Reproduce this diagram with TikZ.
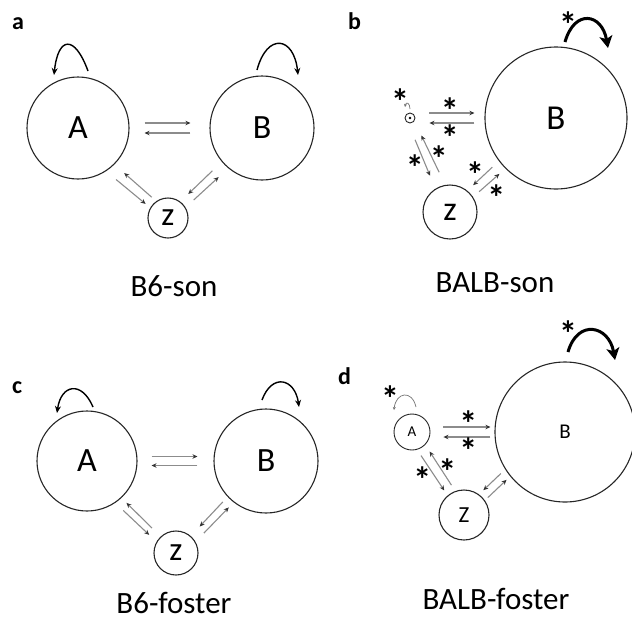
\documentclass[tikz,border=0pt]{standalone}
\usepackage{fontspec}
\setmainfont{Carlito}
\usetikzlibrary{positioning,arrows.meta}
\newcommand{\sigstar}{\smash{\raisebox{-0.55em}{*}}}
\begin{document}
\begin{tikzpicture}[x=1pt, y=-1pt,
	pool/.style={draw=black!85, line width=1.1pt, circle, inner sep=0pt},
	flow/.style={draw=black!45, line width=1.1pt, -{Stealth[length=5pt,width=4.5pt,color=black!80]}},
	ends/.style 2 args={shorten <=#1pt, shorten >=#2pt},
	renew/.style={line width=1.4pt, -{Stealth[length=7pt,width=6pt]}},
	strong/.style={line width=3pt, -{Stealth[length=12pt,width=13pt,inset=3pt]}},
	weak/.style={draw=black!55, line width=0.7pt, -{Stealth[length=3pt,width=3pt]}},
	sig/.style={font=\bfseries\fontsize{36}{36}\selectfont, inner sep=0pt},
	panel/.style={font=\bfseries\fontsize{24}{24}\selectfont, anchor=base west, inner sep=0pt},
	caption/.style={font=\fontsize{31}{31}\selectfont, anchor=base, inner sep=0pt}]
		\useasboundingbox (0,0) rectangle (632,622);

		\node[panel] (la) at (12,29) {a};
		\node[pool, minimum size=102pt, font=\fontsize{34}{34}\selectfont] (aA) at (78,128) {A};
		\node[pool, minimum size=104pt, font=\fontsize{34}{34}\selectfont] (aB) [right of=aA, node distance=184pt] {B};
		\node[pool, minimum size=40pt, font=\fontsize{33}{33}\selectfont] (az) at (168,218) {z};
		\node[caption] (ca) at (174,296) {B6-son};
		\draw[renew] ([shift={(10pt,57pt)}]aA.center) to[out=110, in=84, distance=39pt] ([shift={(-24pt,53pt)}]aA.center);
		\draw[renew] ([shift={(-5pt,58pt)}]aB.center) to[out=75, in=96, distance=39pt] ([shift={(36pt,53pt)}]aB.center);
		\draw[flow, ends={15}{19}] ([yshift=5pt]aA.east) -- ([yshift=5pt]aB.west);
		\draw[flow, ends={19}{15}] ([yshift=-5pt]aB.west) -- ([yshift=-5pt]aA.east);
		\draw[flow, ends={13}{6}] (aA.-57) -- (az.150);
		\draw[flow, ends={6}{13}] (az.125) -- (aA.-45);
		\draw[flow, ends={13}{11}] (aB.-140) -- (az.53);
		\draw[flow, ends={11}{13}] (az.31) -- (aB.-130);

		\node[panel] (lb) at (348,29) {b};
		\node[pool, minimum size=142pt, font=\fontsize{35}{35}\selectfont] (bB) at (556,118) {B};
		\node[pool, minimum size=10pt, line width=0.9pt] (bO) at (410,118) {};
		\fill (bO) circle (1.3pt);
		\node[pool, minimum size=54pt, font=\fontsize{34}{34}\selectfont] (bz) at (450,212) {z};
		\node[caption] (cb) at (495,292) {BALB-son};
		\draw[strong] ([shift={(9pt,76pt)}]bB.center) node[sig, shift={(3pt,24pt)}] {\sigstar} to[out=74, in=100, distance=35pt] ([shift={(52pt,70pt)}]bB.center);
		\draw[weak] ([shift={(0pt,9pt)}]bO.center) node[sig, shift={(-10pt,14pt)}] {\sigstar} to[out=90, in=80, distance=6pt] ([shift={(-5pt,11pt)}]bO.center);
		\draw[flow, ends={14}{10}] ([yshift=5pt]bO.east) -- node[sig, yshift=9pt] {\sigstar} ([yshift=5pt]bB.west);
		\draw[flow, ends={10}{14}] ([yshift=-5pt]bB.west) -- node[sig, yshift=-8pt] {\sigstar} ([yshift=-5pt]bO.east);
		\draw[flow, ends={18}{14}] (bO.-110) -- node[sig, shift={(-7pt,-5pt)}] {\sigstar} (bz.122);
		\draw[flow, ends={14}{16}] (bz.100) -- node[sig, shift={(9pt,1pt)}] {\sigstar} (bO.-35);
		\draw[flow, ends={9}{8}] (bB.-143) -- node[sig, shift={(-8pt,8pt)}] {\sigstar} (bz.51);
		\draw[flow, ends={8}{8}] (bz.33) -- node[sig, shift={(7pt,-8pt)}] {\sigstar} (bB.-135);

		\node[panel] (lc) at (12,393) {c};
		\node[pool, minimum size=100pt, font=\fontsize{34}{34}\selectfont] (cA) at (87,461) {A};
		\node[pool, minimum size=104pt, font=\fontsize{34}{34}\selectfont] (cB) [right of=cA, node distance=179pt] {B};
		\node[pool, minimum size=44pt, font=\fontsize{33}{33}\selectfont] (cz) at (176,553) {z};
		\node[caption] (cc) at (174,613) {B6-foster};
		\draw[renew] ([shift={(6pt,54pt)}]cA.center) to[out=113, in=82, distance=29pt] ([shift={(-30pt,48pt)}]cA.center);
		\draw[renew] ([shift={(-4pt,61pt)}]cB.center) to[out=70, in=98, distance=29pt] ([shift={(33pt,54pt)}]cB.center);
		\draw[flow, ends={14}{16}] ([yshift=4.5pt]cA.east) -- ([yshift=4.5pt]cB.west);
		\draw[flow, ends={16}{14}] ([yshift=-4.5pt]cB.west) -- ([yshift=-4.5pt]cA.east);
		\draw[flow, ends={11}{10}] (cA.-56) -- (cz.150);
		\draw[flow, ends={12}{7}] (cz.133) -- (cA.-47);
		\draw[flow, ends={7}{13}] (cB.-137) -- (cz.49);
		\draw[flow, ends={12}{7}] (cz.30) -- (cB.-128);

		\node[panel] (ld) at (338,384) {d};
		\node[pool, minimum size=36pt, line width=0.9pt, font=\fontsize{15}{15}\selectfont] (dA) at (412,432) {A};
		\node[pool, minimum size=140pt, font=\fontsize{21}{21}\selectfont] (dB) at (565,432) {B};
		\node[pool, minimum size=50pt, font=\fontsize{23}{23}\selectfont] (dz) at (464,515) {Z};
		\node[caption] (cd) at (496,609) {BALB-foster};
		\draw[strong] ([shift={(3pt,80pt)}]dB.center) node[sig, shift={(0pt,25pt)}] {\sigstar} to[out=74, in=100, distance=35pt] ([shift={(50pt,72pt)}]dB.center);
		\draw[weak] ([shift={(4pt,25pt)}]dA.center) to[out=103, in=84, distance=18pt] ([shift={(-18pt,22pt)}]dA.center) node[sig, shift={(-4pt,18pt)}] {\sigstar};
		\draw[flow, ends={13}{4}] ([yshift=5pt]dA.east) -- node[sig, shift={(6pt,10pt)}] {\sigstar} ([yshift=5pt]dB.west);
		\draw[flow, ends={4}{13}] ([yshift=-5pt]dB.west) -- node[sig, shift={(6pt,-7pt)}] {\sigstar} ([yshift=-5pt]dA.east);
		\draw[flow, ends={7}{6}] (dA.-74) -- node[sig, shift={(-10pt,0pt)}] {\sigstar} (dz.130);
		\draw[flow, ends={7}{8}] (dz.110) -- node[sig, shift={(7pt,3pt)}] {\sigstar} (dA.-44);
		\draw[flow, ends={6}{6}] (dB.-148) -- (dz.54);
		\draw[flow, ends={4}{5}] (dz.35) -- (dB.-141);
		\end{tikzpicture}
\end{document}
